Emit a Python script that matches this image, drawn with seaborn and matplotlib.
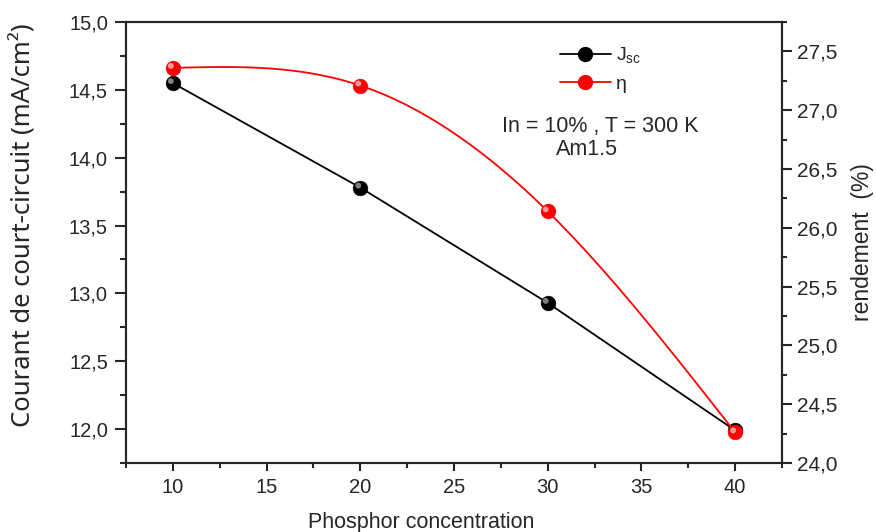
import numpy as np
import pandas as pd
import matplotlib.pyplot as plt
import matplotlib.transforms as mtransforms
from matplotlib.lines import Line2D
from matplotlib.ticker import MultipleLocator, FuncFormatter
import seaborn as sns

# data
conc = [10, 20, 30, 40]
jsc = [14.55, 13.78, 12.93, 11.99]
eta = [27.36, 27.21, 26.14, 24.26]

sns.set_style('ticks')
plt.rcParams['font.family'] = ['Liberation Sans', 'DejaVu Sans']
plt.rcParams['axes.linewidth'] = 1.5
plt.rcParams['mathtext.fontset'] = 'custom'
plt.rcParams['mathtext.rm'] = 'Liberation Sans'


def natural_spline(x, y, xs):
    # natural cubic spline through the points (smoothed line of the eta curve)
    x = np.asarray(x, float); y = np.asarray(y, float)
    n = len(x)
    h = np.diff(x)
    A = np.zeros((n, n)); b = np.zeros(n)
    A[0, 0] = A[-1, -1] = 1
    for i in range(1, n - 1):
        A[i, i - 1] = h[i - 1]
        A[i, i] = 2 * (h[i - 1] + h[i])
        A[i, i + 1] = h[i]
        b[i] = 3 * ((y[i + 1] - y[i]) / h[i] - (y[i] - y[i - 1]) / h[i - 1])
    c = np.linalg.solve(A, b)
    bb = (y[1:] - y[:-1]) / h - h * (2 * c[:-1] + c[1:]) / 3
    d = (c[1:] - c[:-1]) / (3 * h)
    idx = np.clip(np.searchsorted(x, xs) - 1, 0, n - 2)
    dx = xs - x[idx]
    return y[idx] + bb[idx] * dx + c[idx] * dx ** 2 + d[idx] * dx ** 3


df = pd.DataFrame({'conc': conc, 'jsc': jsc, 'eta': eta})
xs = np.linspace(conc[0], conc[-1], 300)
smooth = pd.DataFrame({'conc': xs, 'eta': natural_spline(conc, eta, xs)})

fig = plt.figure(figsize=(8.76, 5.32), dpi=100)
ax = fig.add_axes([0.1438, 0.1297, 0.7489, 0.8289])
ax2 = ax.twinx()


def balls(axis, col, face, light):
    sns.scatterplot(data=df, x='conc', y=col, ax=axis, s=110, color=face,
                    edgecolor=face, linewidth=0.5, zorder=5, legend=False)
    off = mtransforms.offset_copy(axis.transData, fig=fig, x=-2, y=2, units='dots')
    axis.scatter(df['conc'], df[col], s=18, color=light, edgecolor='none',
                 transform=off, zorder=6, alpha=0.8)


sns.lineplot(data=df, x='conc', y='jsc', ax=ax, color='black', lw=1.3)
balls(ax, 'jsc', 'black', '#a0a0a0')

sns.lineplot(data=smooth, x='conc', y='eta', ax=ax2, color='red', lw=1.3)
balls(ax2, 'eta', '#ff0000', '#ffc0c0')

comma = FuncFormatter(lambda v, p: f'{v:.1f}'.replace('.', ','))

ax.set_xlim(7.5, 42.5)
ax.set_ylim(11.75, 15.0)
ax2.set_ylim(24.0, 27.75)
ax.xaxis.set_major_locator(MultipleLocator(5))
ax.xaxis.set_minor_locator(MultipleLocator(2.5))
ax.yaxis.set_major_locator(MultipleLocator(0.5))
ax.yaxis.set_minor_locator(MultipleLocator(0.25))
ax2.yaxis.set_major_locator(MultipleLocator(0.5))
ax2.yaxis.set_minor_locator(MultipleLocator(0.25))
ax.yaxis.set_major_formatter(comma)
ax2.yaxis.set_major_formatter(comma)

for a in (ax, ax2):
    for s in a.spines.values():
        s.set_visible(True)
        s.set_linewidth(1.5)
ax.tick_params(axis='x', which='major', length=6, width=1.5, labelsize=14.5, pad=5)
ax.tick_params(axis='x', which='minor', length=3.5, width=1.5)
ax.tick_params(axis='y', which='major', length=8, width=1.5, labelsize=14.5, pad=5)
ax.tick_params(axis='y', which='minor', length=4.5, width=1.5)
ax2.tick_params(axis='y', which='major', length=7, width=1.5, labelsize=15, pad=4)
ax2.tick_params(axis='y', which='minor', length=3.6, width=1.5)

ax.set_xlabel('Phosphor concentration', fontsize=15.5)
ax.xaxis.set_label_coords(0.45, -0.112)
ax.set_ylabel('Courant de court-circuit (mA/cm²)', fontsize=18.5,
              family=['Noto Sans', 'DejaVu Sans'])
ax.yaxis.set_label_coords(-0.137, 0.54)
ax2.set_ylabel('rendement  (%)', fontsize=16.5)
ax2.yaxis.set_label_coords(1.105, 0.5)

handles = [
    Line2D([], [], color='black', lw=1.3, marker='o', ms=10, mfc='black', mec='black'),
    Line2D([], [], color='red', lw=1.3, marker='o', ms=10, mfc='red', mec='red'),
]
ax.legend(handles, [r'J$_{\mathrm{sc}}$', 'η'], loc='upper left',
          bbox_to_anchor=(0.635, 0.985), frameon=False, fontsize=14,
          handlelength=2.6, handletextpad=0.3, labelspacing=0.45)

ax.text(0.7226, 0.762, 'In = 10% , T = 300 K', transform=ax.transAxes,
        ha='center', va='center', fontsize=15.5)
ax.text(0.703, 0.71, 'Am1.5', transform=ax.transAxes,
        ha='center', va='center', fontsize=15.5)

plt.savefig('out.png', dpi=100)
